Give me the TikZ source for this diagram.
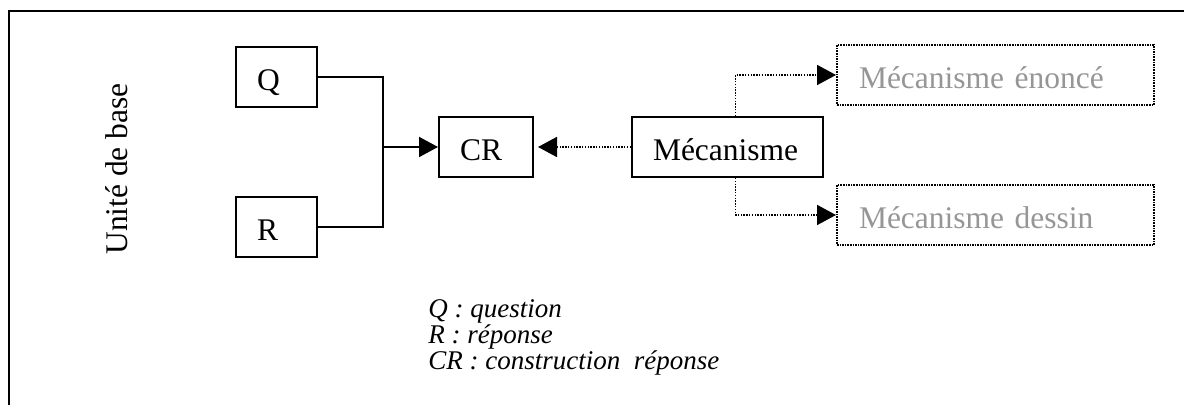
\documentclass[tikz,border=0pt]{standalone}
\usepackage{fontspec}
\setmainfont{Liberation Serif}
\usetikzlibrary{arrows.meta}
\definecolor{txtgray}{RGB}{150,150,150}
\begin{document}
\begin{tikzpicture}[x=0.5pt,y=-0.5pt,
  mainfont/.style={font=\fontsize{15.75}{18}\selectfont},
  box/.style={draw, line width=1pt, mainfont, minimum height=30pt, inner xsep=10.5pt, inner ysep=0pt,
    align=left, text height=15.75pt, text depth=2.7pt},
  greybox/.style={box, text=txtgray, dash pattern=on 0.8pt off 0.5pt},
  conn/.style={line width=1pt},
  dotconn/.style={line width=0.9pt, dash pattern=on 0.7pt off 0.7pt},
  tip/.style={-{Triangle[length=9.5pt,width=10pt]}},
  legend/.style={font=\fontsize{13.5}{15}\selectfont\itshape, anchor=base west, inner sep=0pt}
]
\useasboundingbox (0,0) rectangle (1184,405);
% frame
\draw[line width=1.2pt] (1184,11) -- (9,11) -- (9,405);
% side label
\node[mainfont, rotate=90, anchor=base, inner sep=0pt] (ub) at (127,169) {Unité de base};
% boxes
\node[box, text width=19.5pt] (Q) at (276.5,77) {Q};
\node[box, text width=19.5pt] (R) at (276.5,227) {R};
\node[box, text width=26pt] (CR) at (486,147) {CR};
\node[box, text width=74.5pt] (M) at (727.5,147) {Mécanisme};
\node[greybox, text width=136.5pt, inner xsep=11pt] (E) at (995.5,75) {Mécanisme énoncé};
\node[greybox, text width=136.5pt, inner xsep=11pt] (D) at (995.5,215) {Mécanisme dessin};
% connectors
\coordinate (j) at (383,147);
\draw[conn] (Q.east) -| (j) |- (R.east);
\draw[conn, tip] (j) -- (CR.west);
\draw[dotconn, tip, shorten >=2pt] (M.west) -- (CR.east);
\draw[dotconn, tip] (M.north) ++(8,0) |- (E.west);
\draw[dotconn, tip] (M.south) ++(8,0) |- (D.west);
% legend
\node[legend] (l1) at (428,318) {Q : question};
\node[legend] (l2) at (428,344) {R : réponse};
\node[legend] (l3) at (428,370) {CR : construction\ \ réponse};
\end{tikzpicture}
\end{document}
